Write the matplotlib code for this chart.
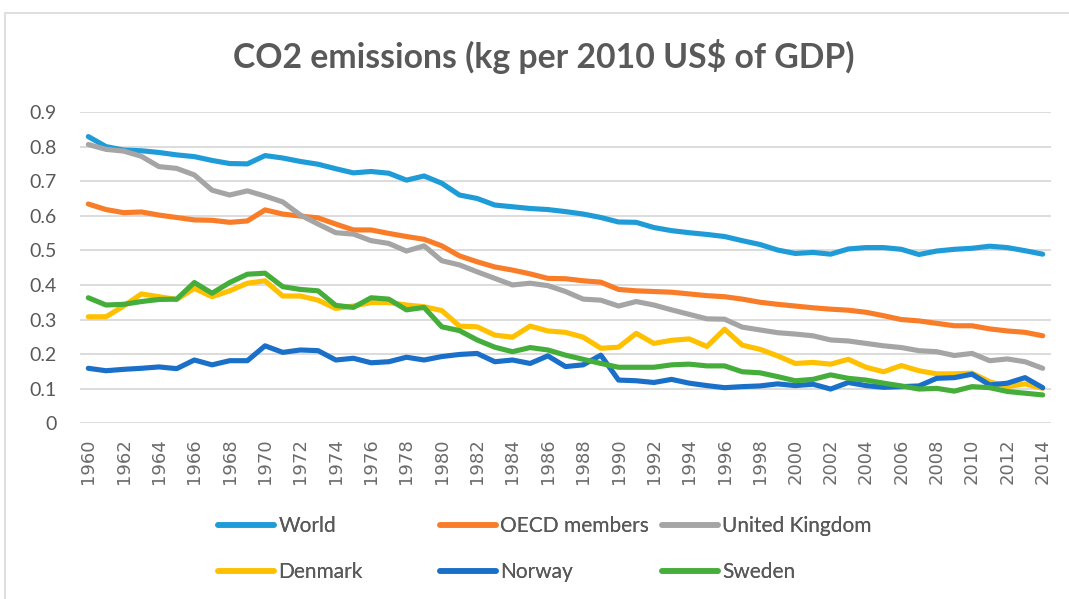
import matplotlib
matplotlib.use("Agg")
import matplotlib.pyplot as plt
from matplotlib.patches import Rectangle

years = list(range(1960, 2015))

world = [0.829, 0.800, 0.790, 0.788, 0.783, 0.776, 0.771, 0.760, 0.751, 0.750,
         0.774, 0.767, 0.757, 0.749, 0.736, 0.724, 0.728, 0.723, 0.703, 0.715,
         0.694, 0.660, 0.650, 0.631, 0.626, 0.621, 0.618, 0.612, 0.605, 0.595,
         0.582, 0.581, 0.566, 0.557, 0.551, 0.546, 0.540, 0.528, 0.517, 0.501,
         0.491, 0.494, 0.489, 0.504, 0.508, 0.508, 0.503, 0.488, 0.498, 0.503,
         0.506, 0.512, 0.508, 0.499, 0.489]

oecd = [0.634, 0.618, 0.609, 0.611, 0.602, 0.595, 0.588, 0.587, 0.581, 0.585,
        0.617, 0.605, 0.599, 0.594, 0.576, 0.559, 0.559, 0.549, 0.540, 0.532,
        0.513, 0.484, 0.467, 0.452, 0.443, 0.432, 0.419, 0.418, 0.412, 0.408,
        0.387, 0.383, 0.381, 0.379, 0.374, 0.369, 0.366, 0.359, 0.350, 0.344,
        0.339, 0.334, 0.330, 0.327, 0.321, 0.311, 0.300, 0.296, 0.289, 0.282,
        0.282, 0.273, 0.267, 0.263, 0.253]

uk = [0.806, 0.792, 0.787, 0.772, 0.742, 0.737, 0.718, 0.674, 0.660, 0.672,
      0.657, 0.640, 0.602, 0.576, 0.551, 0.547, 0.528, 0.520, 0.498, 0.513,
      0.470, 0.458, 0.438, 0.419, 0.400, 0.405, 0.398, 0.381, 0.359, 0.356,
      0.339, 0.352, 0.342, 0.328, 0.315, 0.302, 0.301, 0.278, 0.270, 0.262,
      0.258, 0.253, 0.241, 0.238, 0.231, 0.224, 0.219, 0.210, 0.207, 0.196,
      0.202, 0.181, 0.186, 0.178, 0.159]

denmark = [0.308, 0.308, 0.339, 0.374, 0.366, 0.358, 0.390, 0.366, 0.383, 0.405,
           0.412, 0.368, 0.368, 0.356, 0.332, 0.339, 0.349, 0.349, 0.342, 0.337,
           0.326, 0.281, 0.279, 0.255, 0.249, 0.281, 0.267, 0.263, 0.249, 0.217,
           0.220, 0.260, 0.231, 0.240, 0.244, 0.222, 0.272, 0.226, 0.214, 0.195,
           0.173, 0.176, 0.171, 0.185, 0.162, 0.149, 0.167, 0.152, 0.143, 0.143,
           0.145, 0.120, 0.106, 0.114, 0.101]

norway = [0.159, 0.152, 0.156, 0.159, 0.163, 0.158, 0.183, 0.169, 0.181, 0.181,
          0.224, 0.205, 0.212, 0.210, 0.183, 0.188, 0.175, 0.178, 0.191, 0.183,
          0.193, 0.199, 0.202, 0.178, 0.183, 0.173, 0.195, 0.164, 0.169, 0.197,
          0.125, 0.123, 0.118, 0.127, 0.116, 0.109, 0.103, 0.106, 0.108, 0.114,
          0.109, 0.113, 0.099, 0.118, 0.109, 0.104, 0.106, 0.108, 0.130, 0.132,
          0.142, 0.111, 0.116, 0.132, 0.103]

sweden = [0.363, 0.342, 0.344, 0.352, 0.358, 0.359, 0.407, 0.376, 0.407, 0.431,
          0.434, 0.395, 0.387, 0.383, 0.341, 0.335, 0.363, 0.359, 0.328, 0.335,
          0.279, 0.268, 0.241, 0.220, 0.207, 0.219, 0.212, 0.197, 0.185, 0.173,
          0.162, 0.162, 0.162, 0.169, 0.171, 0.166, 0.166, 0.149, 0.146, 0.135,
          0.123, 0.127, 0.140, 0.130, 0.125, 0.116, 0.108, 0.099, 0.101, 0.093,
          0.106, 0.103, 0.092, 0.087, 0.082]

series_names = ["World", "OECD members", "United Kingdom", "Denmark", "Norway", "Sweden"]
series_values = [world, oecd, uk, denmark, norway, sweden]
colors = ["#1F9CD8", "#F97D28", "#A5A5A5", "#FFC000", "#1A70C8", "#45AE3B"]

title = "CO2 emissions (kg per 2010 US$ of GDP)"
yticks = [0, 0.1, 0.2, 0.3, 0.4, 0.5, 0.6, 0.7, 0.8, 0.9]
ytick_labels = ["0", "0.1", "0.2", "0.3", "0.4", "0.5", "0.6", "0.7", "0.8", "0.9"]
xtick_years = list(range(1960, 2015, 2))

TEXT = "#595959"
W, H = 1069, 599
fig = plt.figure(figsize=(W / 100, H / 100), dpi=100)
fig.patch.set_facecolor("white")

# chart-area border
fig.patches.append(Rectangle((5 / W, -0.05), 1.2, 1 - 13 / H + 0.05,
                             transform=fig.transFigure, fill=False,
                             edgecolor="#D9D9D9", linewidth=1.2, zorder=0))

ax = fig.add_axes([80 / W, 1 - 423.3 / H, (1051 - 80) / W, (423.3 - 112) / H])
ax.set_facecolor("none")

lines = []
for name, vals, c in zip(series_names, series_values, colors):
    ln, = ax.plot(years, vals, color=c, linewidth=3.7, label=name,
                  solid_capstyle="round", solid_joinstyle="round", zorder=3)
    lines.append(ln)

ax.set_xlim(1960 - 0.47, 2014 + 0.47)
ax.set_ylim(0, 0.9)
ax.set_yticks(yticks)
ax.set_yticklabels(ytick_labels, family="Lato", fontsize=14, color=TEXT)
ax.set_xticks(xtick_years)
ax.set_xticklabels([str(y) for y in xtick_years], rotation=90,
                   family="DejaVu Sans", fontsize=13, color="#6B6B6B")
ax.grid(axis="y", color="#D9D9D9", linewidth=1.3, zorder=0)
ax.set_axisbelow(True)
for s in ax.spines.values():
    s.set_visible(False)
ax.tick_params(axis="both", length=0)
ax.tick_params(axis="y", pad=16.5)
ax.tick_params(axis="x", pad=11)

fig.text(544 / W, 1 - 57 / H, title, ha="center", va="center",
         fontsize=24.3, fontweight="bold", color=TEXT, family="Lato")

# legend: Excel-style uniform columns, placed entry by entry
col_x = [218, 440, 662]
row_y = [526, 572]
for i, (ln, name) in enumerate(zip(lines, series_names)):
    r, c = divmod(i, 3)
    leg = fig.legend(handles=[ln], labels=[name], loc="center left",
                     bbox_to_anchor=(col_x[c] / W, 1 - row_y[r] / H),
                     frameon=False, prop={"family": "Lato", "size": 15},
                     handlelength=2.7, handletextpad=0.2,
                     borderpad=0, borderaxespad=0)
    leg.get_lines()[0].set_linewidth(4.0)
    for t in leg.get_texts():
        t.set_color(TEXT)
    fig.add_artist(leg)

fig.savefig("out.png", dpi=100, facecolor="white")
